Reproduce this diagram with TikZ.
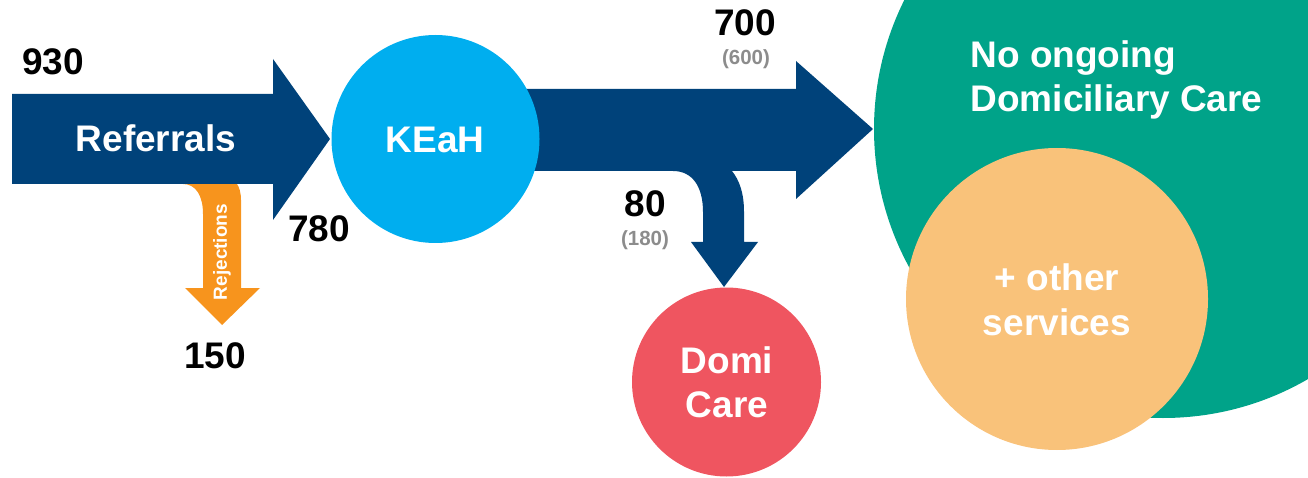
\documentclass[tikz,border=0pt]{standalone}
\usepackage{fontspec}
\setmainfont{Liberation Sans}
\begin{document}
\begin{tikzpicture}[x=1pt,y=-1pt,
  big/.style={font=\bfseries\fontsize{37}{44}\selectfont},
  small/.style={font=\bfseries\fontsize{20.5}{22}\selectfont},
  disc/.style={circle,draw=none,inner sep=0pt,minimum size=#1},
  white text/.style={text=white,align=center}]
\definecolor{navy}{HTML}{00427A}
\definecolor{sky}{HTML}{00AEEF}
\definecolor{teal}{HTML}{00A389}
\definecolor{amber}{HTML}{F7941D}
\definecolor{peach}{HTML}{F9C27A}
\definecolor{coral}{HTML}{EF5560}
\definecolor{greytxt}{HTML}{8C8C8C}
\useasboundingbox (0,0) rectangle (1308,478);
\clip (0,0) rectangle (1308,478);

% outcome circles
\node[disc=578pt,fill=teal] (none) at (1163,129) {};
\node[disc=302pt,fill=peach] (other) at (1057,299) {};
\node[disc=189pt,fill=coral] (domi) at (726.5,382) {};

% rejections branch (behind the referrals arrow)
\coordinate (rejtip) at (222,325);
\fill[amber] (183,184) .. controls (196,184) and (203,196) .. (203,214)
  -- (203,288) -- (185,288) -- (rejtip) -- (260,288) -- (241,288)
  -- (241,200) .. controls (241,192) and (239,187) .. (237,184) -- cycle;
\node[rotate=90,text=white,font=\bfseries\fontsize{19}{20}\selectfont] (rej) at (222,252) {Rejections};

% referrals arrow into KEaH
\coordinate (reftip) at (330,139);
\fill[navy] (12,94) -- (273,94) -- (273,59) -- (reftip) -- (273,220) -- (273,184) -- (12,184) -- cycle;

% main outflow arrow with the branch down to Domi Care
\coordinate (maintip) at (873,129);
\coordinate (domitip) at (724,287);
\fill[navy] (520,89) -- (796,89) -- (796,61) -- (maintip) -- (796,199) -- (796,171)
  -- (732,171) .. controls (739,180) and (744,192) .. (744,212)
  -- (744,242) -- (758,242) -- (domitip) -- (691,242) -- (703,242)
  -- (703,212) .. controls (703,186) and (692,171) .. (673,171)
  -- (520,171) -- cycle;

% KEaH hub
\node[disc=208pt,fill=sky] (keah) at (435.5,139) {};

% labels
\node[big,white text,anchor=base] (lref) at (156,152) {Referrals};
\node[big,white text,anchor=base] (lkeah) at (435,153) {KEaH};
\node[big,anchor=base] (n930) at (53,75) {930};
\node[big,anchor=base] (n780) at (319,242) {780};
\node[big,anchor=base] (n150) at (215,368) {150};
\node[big,anchor=base] (n700) at (745,36) {700};
\node[small,text=greytxt,anchor=base] (n600) at (746,65) {(600)};
\node[big,anchor=base] (n80) at (645,217) {80};
\node[small,text=greytxt,anchor=base] (n180) at (645,246) {(180)};
\node[big,text=white,anchor=base west] (lnone1) at (967,68) {No ongoing};
\node[big,text=white,anchor=base west] (lnone2) at (967,112) {Domiciliary Care};
\node[big,text=white,anchor=base] (lother1) at (1057,290) {+ other};
\node[big,text=white,anchor=base] (lother2) at (1057,335) {services};
\node[big,text=white,anchor=base] (ldomi1) at (727,373) {Domi};
\node[big,text=white,anchor=base] (ldomi2) at (727,417) {Care};
\end{tikzpicture}
\end{document}
